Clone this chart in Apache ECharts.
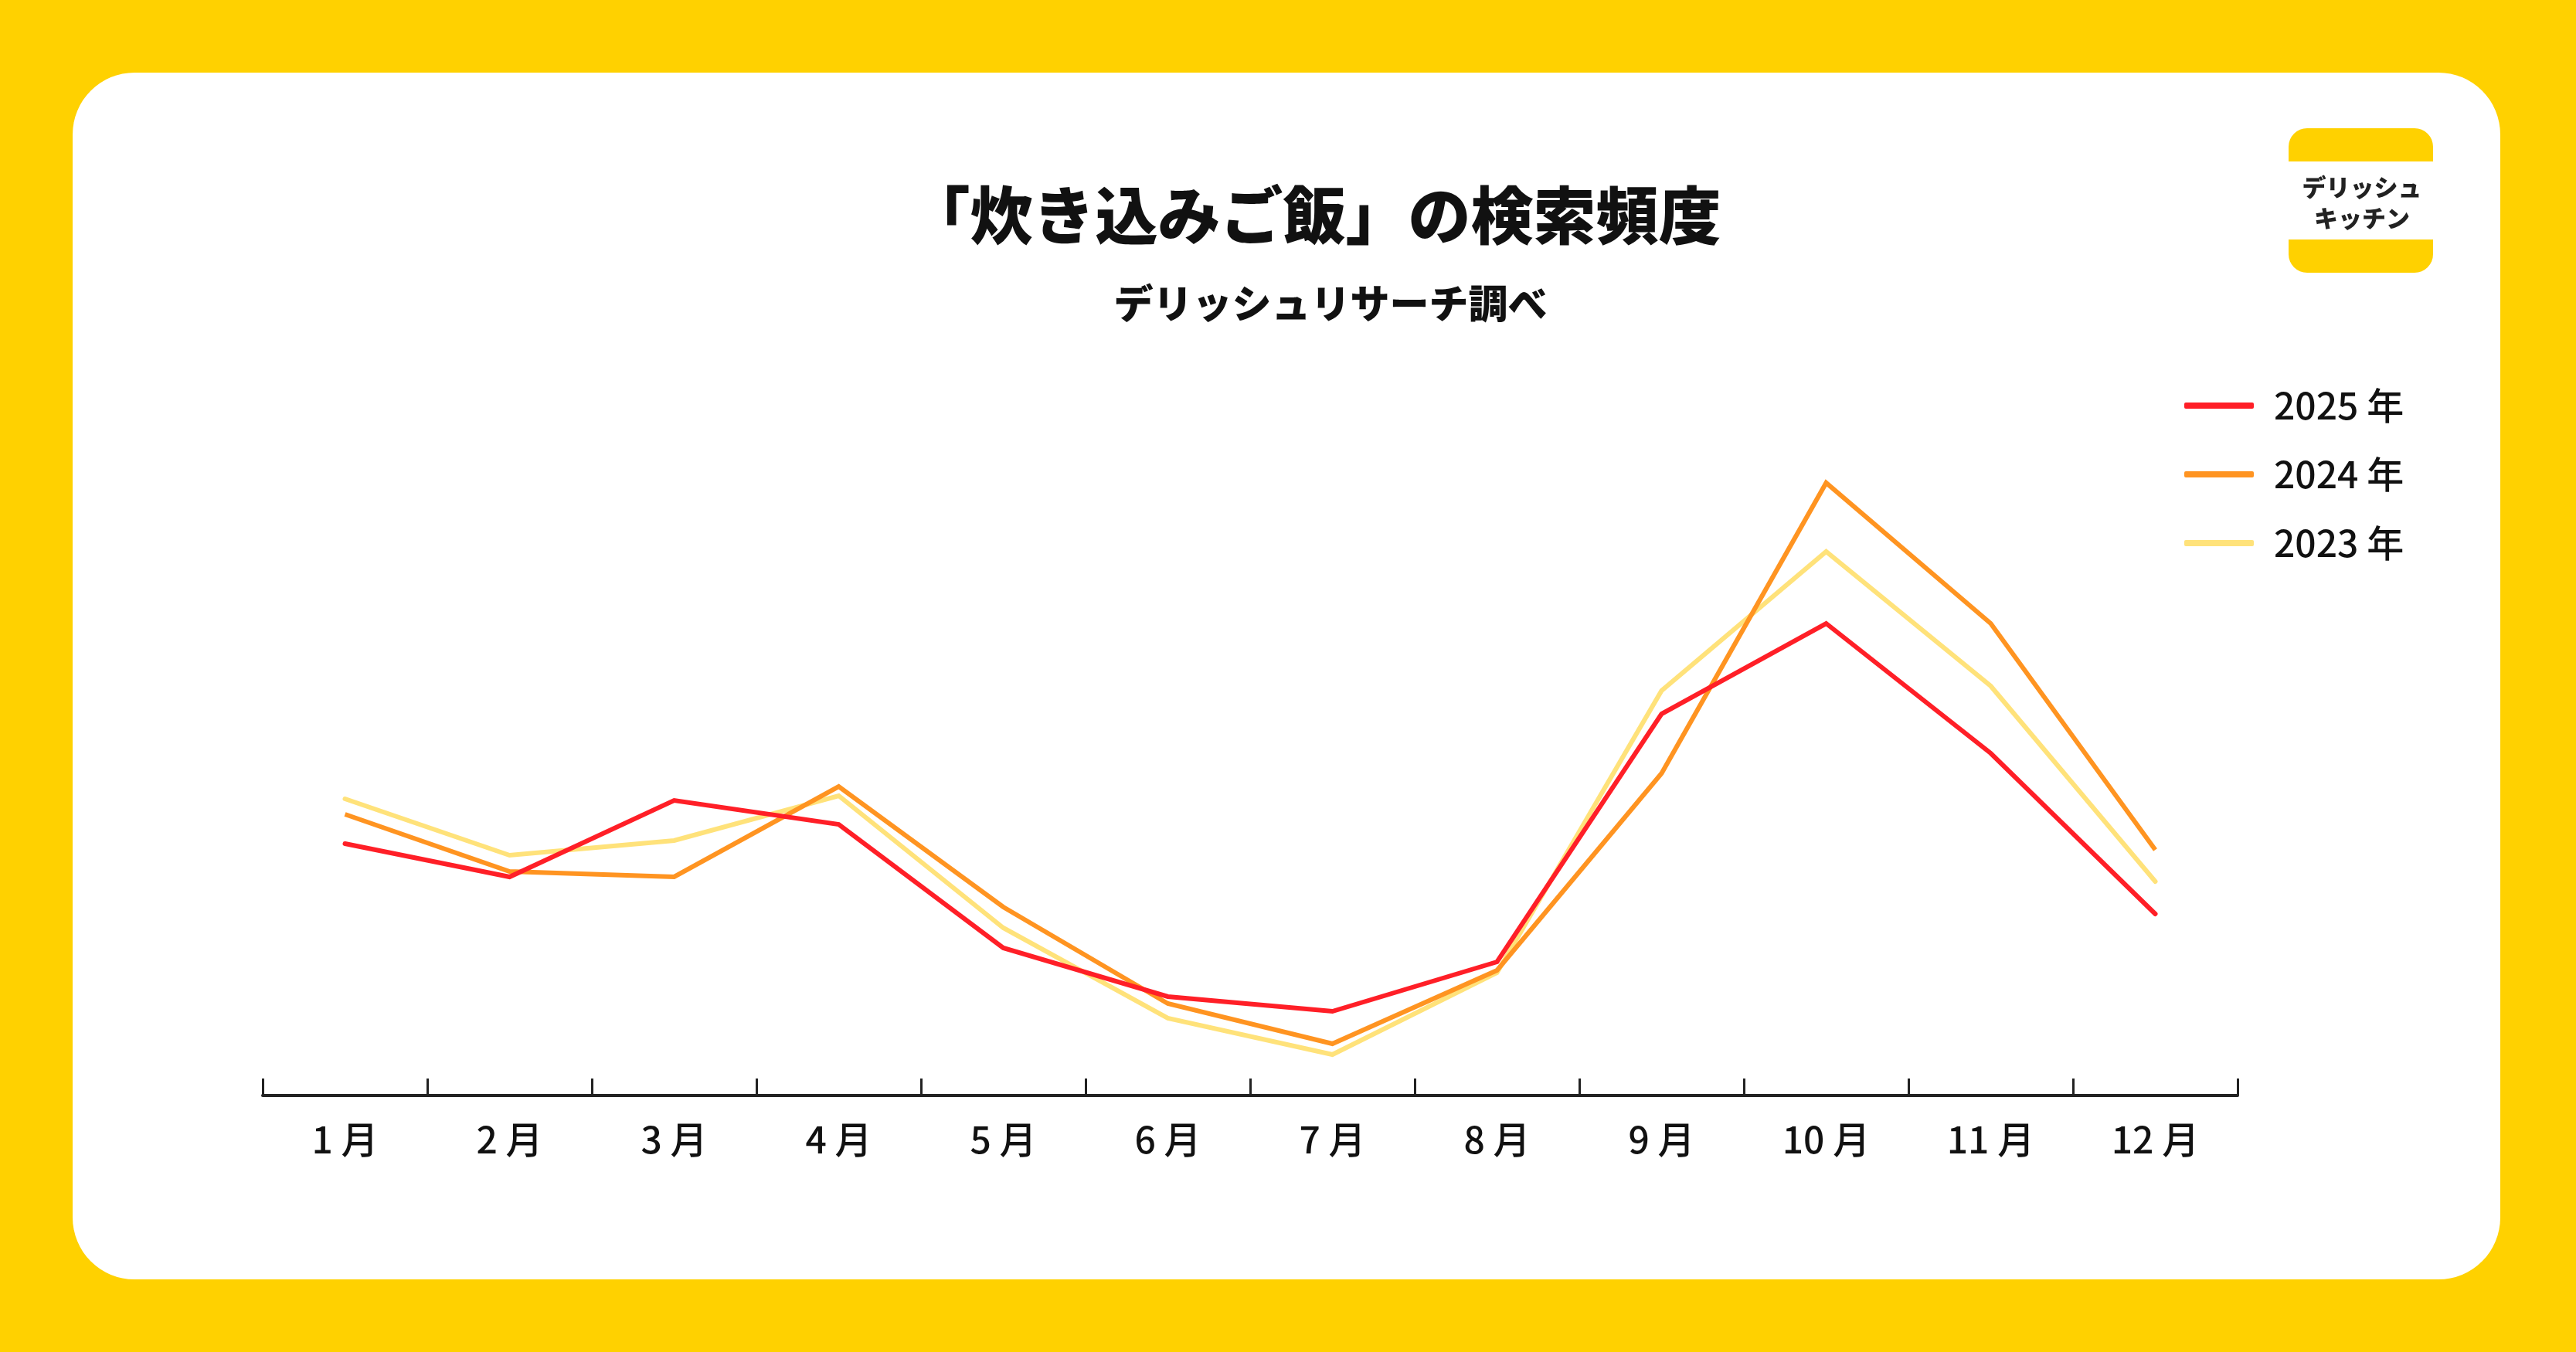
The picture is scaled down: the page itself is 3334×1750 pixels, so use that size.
<!DOCTYPE html>
<html>
<head>
<meta charset="utf-8">
<script src="https://cdn.jsdelivr.net/npm/echarts@6/dist/echarts.min.js"></script>
<style>
  html, body { margin: 0; padding: 0; background: #FFD100; }
  #main { width: 3334px; height: 1750px; }
</style>
</head>
<body>
<div id="main"></div>
<script>
  // データ
  const months = ['1 月', '2 月', '3 月', '4 月', '5 月', '6 月', '7 月', '8 月', '9 月', '10 月', '11 月', '12 月'];
  const years = ['2025 年', '2024 年', '2023 年'];
  const data2025 = [32.6, 28.3, 38.2, 35.1, 19.1, 12.8, 10.9, 17.3, 49.4, 61.1, 44.3, 23.5];
  const data2024 = [36.4, 29.0, 28.3, 40.0, 24.4, 11.9, 6.7, 16.2, 41.7, 79.3, 61.1, 31.8];
  const data2023 = [38.4, 31.1, 33.0, 38.8, 21.7, 10.0, 5.3, 15.9, 52.4, 70.4, 53.0, 27.7];

  const FONT = '"Noto Sans CJK JP", "Noto Sans", sans-serif';
  const YELLOW = '#FFD100';

  const chart = echarts.init(document.getElementById('main'));

  const option = {
    backgroundColor: YELLOW,
    animation: false,
    textStyle: { fontFamily: FONT },
    graphic: [
      // 白いカード
      {
        type: 'rect',
        z: -10,
        shape: { x: 94, y: 94, width: 3142, height: 1562, r: 80 },
        style: { fill: '#ffffff' }
      },
      // タイトル
      {
        type: 'text',
        x: 1701, y: 278,
        style: {
          text: '「炊き込みご飯」の検索頻度',
          fontFamily: FONT, fontSize: 81, fontWeight: 900,
          fill: '#111111', align: 'center', verticalAlign: 'middle'
        }
      },
      {
        type: 'text',
        x: 1722, y: 393,
        style: {
          text: 'デリッシュリサーチ調べ',
          fontFamily: FONT, fontSize: 51, fontWeight: 900,
          fill: '#111111', align: 'center', verticalAlign: 'middle'
        }
      },
      // ロゴ
      {
        type: 'group',
        children: [
          { type: 'rect', shape: { x: 2962, y: 166, width: 187, height: 187, r: 24 }, style: { fill: YELLOW } },
          { type: 'rect', shape: { x: 2962, y: 209, width: 187, height: 101 }, style: { fill: '#ffffff' } },
          {
            type: 'text', x: 3057, y: 242,
            style: { text: 'デリッシュ', fontFamily: FONT, fontSize: 31, fontWeight: 900, fill: '#222222', align: 'center', verticalAlign: 'middle' }
          },
          {
            type: 'text', x: 3057, y: 282,
            style: { text: 'キッチン', fontFamily: FONT, fontSize: 31, fontWeight: 900, fill: '#222222', align: 'center', verticalAlign: 'middle' }
          }
        ]
      }
    ],
    legend: {
      data: years,
      orient: 'vertical',
      left: 2822,
      top: 496,
      itemWidth: 90,
      itemHeight: 8,
      itemGap: 41,
      icon: 'roundRect',
      textStyle: {
        fontFamily: FONT, fontSize: 48, fontWeight: 500, color: '#111111',
        padding: [0, 0, 0, 21]
      }
    },
    grid: {
      left: 340,
      right: 438,
      top: 418,
      bottom: 332
    },
    xAxis: {
      type: 'category',
      data: months,
      boundaryGap: true,
      axisLine: { show: true, lineStyle: { color: '#222222', width: 4 } },
      axisTick: { show: true, inside: true, length: 22, interval: 0, lineStyle: { color: '#222222', width: 3 } },
      axisLabel: {
        margin: 33,
        fontFamily: FONT, fontSize: 48, fontWeight: 500, color: '#111111'
      }
    },
    yAxis: {
      type: 'value',
      min: 0,
      max: 100,
      show: false
    },
    series: [
      {
        name: '2025 年',
        type: 'line',
        data: data2025,
        showSymbol: false,
        z: 4,
        itemStyle: { color: '#FF1F27' },
        lineStyle: { color: '#FF1F27', width: 6, join: 'miter', cap: 'round' }
      },
      {
        name: '2024 年',
        type: 'line',
        data: data2024,
        showSymbol: false,
        z: 3,
        itemStyle: { color: '#FF9421' },
        lineStyle: { color: '#FF9421', width: 6, join: 'miter' }
      },
      {
        name: '2023 年',
        type: 'line',
        data: data2023,
        showSymbol: false,
        z: 2,
        itemStyle: { color: '#FFE27A' },
        lineStyle: { color: '#FFE27A', width: 6, join: 'miter', cap: 'round' }
      }
    ]
  };

  chart.setOption(option);

  window.addEventListener('resize', function () {
    chart.resize();
  });
</script>
</body>
</html>
